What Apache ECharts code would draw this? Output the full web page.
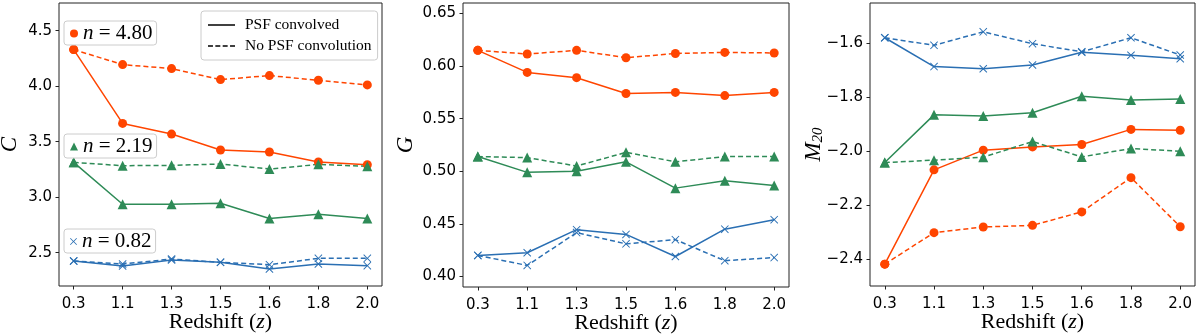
<!DOCTYPE html>
<html>
<head>
<meta charset="utf-8">
<script src="https://cdn.jsdelivr.net/npm/echarts@6/dist/echarts.min.js"></script>
<style>
html, body { margin: 0; padding: 0; background: #fff; }
#chart { width: 1200px; height: 335px; }
</style>
</head>
<body>
<div id="chart"></div>
<script>
// redshift bins (x categories)
const zLabels = ['0.3', '1.1', '1.3', '1.5', '1.6', '1.8', '2.0'];

// concentration C
const cRedPsf = [4.33, 3.665, 3.569, 3.425, 3.407, 3.317, 3.293];
const cRedRaw = [4.33, 4.195, 4.159, 4.06, 4.096, 4.054, 4.012];
const cGreenPsf = [3.314, 2.937, 2.937, 2.946, 2.808, 2.847, 2.808];
const cGreenRaw = [3.314, 3.284, 3.287, 3.299, 3.254, 3.296, 3.278];
const cBluePsf = [2.425, 2.38, 2.434, 2.413, 2.353, 2.398, 2.383];
const cBlueRaw = [2.425, 2.398, 2.443, 2.413, 2.392, 2.449, 2.449];

// Gini G
const gRedPsf = [0.615, 0.594, 0.589, 0.574, 0.575, 0.572, 0.575];
const gRedRaw = [0.615, 0.6115, 0.615, 0.608, 0.612, 0.613, 0.6125];
const gGreenPsf = [0.514, 0.499, 0.500, 0.509, 0.484, 0.491, 0.4865];
const gGreenRaw = [0.514, 0.513, 0.505, 0.518, 0.509, 0.514, 0.514];
const gBluePsf = [0.420, 0.4226, 0.4445, 0.440, 0.419, 0.445, 0.454];
const gBlueRaw = [0.420, 0.4105, 0.4417, 0.431, 0.435, 0.415, 0.418];

// M20
const mRedPsf = [-2.419, -2.069, -1.996, -1.984, -1.975, -1.919, -1.922];
const mRedRaw = [-2.419, -2.302, -2.281, -2.275, -2.225, -2.098, -2.280];
const mGreenPsf = [-2.042, -1.865, -1.869, -1.857, -1.796, -1.810, -1.806];
const mGreenRaw = [-2.042, -2.033, -2.022, -1.964, -2.021, -1.990, -2.000];
const mBluePsf = [-1.579, -1.686, -1.694, -1.680, -1.633, -1.644, -1.657];
const mBlueRaw = [-1.579, -1.607, -1.557, -1.601, -1.631, -1.579, -1.643];

// y ticks
const cTicks = [2.5, 3.0, 3.5, 4.0, 4.5];
const gTicks = [0.40, 0.45, 0.50, 0.55, 0.60, 0.65];
const mTicks = [-2.4, -2.2, -2.0, -1.8, -1.6];

const nameRed = 'n = 4.80';
const nameGreen = 'n = 2.19';
const nameBlue = 'n = 0.82';

const RED = '#ff4500';
const GREEN = '#2e8b57';
const BLUE = '#2a6fb3';
const xMark = 'path://M0,1L1,0L6,5L11,0L12,1L7,6L12,11L11,12L6,7L1,12L0,11L5,6Z';
const solidIcon = 'path://M0,0L27,0L27,1.5L0,1.5Z';
const dashIcon = 'path://M0,0L5,0L5,1.5L0,1.5Z M7.4,0L12.4,0L12.4,1.5L7.4,1.5Z M14.8,0L19.8,0L19.8,1.5L14.8,1.5Z M22.2,0L27.2,0L27.2,1.5L22.2,1.5Z';

const grids = [
    { left: 59, top: 3, width: 323, height: 283 },
    { left: 463, top: 3, width: 326, height: 284 },
    { left: 870, top: 3, width: 325, height: 283 }
];

const chart = echarts.init(document.getElementById('chart'));

function xAxisFor(idx) {
    return {
        type: 'value',
        gridIndex: idx,
        min: -0.3,
        max: 6.3,
        name: '{t|Redshift (}{z|z}{t|)}',
        nameLocation: 'middle',
        nameGap: 25,
        nameMoveOverlap: false,
        nameTextStyle: {
            rich: {
                t: { fontFamily: 'Liberation Serif', fontSize: 22, color: '#000' },
                z: { fontFamily: 'Liberation Serif', fontStyle: 'italic', fontSize: 22, color: '#000' }
            }
        },
        axisLine: { show: false, onZero: false },
        splitLine: { show: false },
        axisTick: { show: true, length: 3.5, customValues: [0, 1, 2, 3, 4, 5, 6], lineStyle: { color: '#222' } },
        axisLabel: {
            customValues: [0, 1, 2, 3, 4, 5, 6],
            formatter: v => zLabels[Math.round(v)],
            fontFamily: 'DejaVu Sans',
            fontSize: 15,
            color: '#000',
            margin: 11
        }
    };
}

function yAxisFor(idx, min, max, ticks, fmt, name, gap) {
    return {
        type: 'value',
        gridIndex: idx,
        min: min,
        max: max,
        name: name,
        nameLocation: 'middle',
        nameGap: gap,
        nameRotate: 90,
        nameMoveOverlap: false,
        nameTextStyle: {
            fontFamily: 'Liberation Serif', fontStyle: 'italic', fontSize: 23, color: '#000',
            rich: {
                m: { fontFamily: 'Liberation Serif', fontStyle: 'italic', fontSize: 23, color: '#000' },
                s: { fontFamily: 'Liberation Serif', fontSize: 15, color: '#000', padding: [10, 0, 0, 0] }
            }
        },
        axisLine: { show: false, onZero: false },
        splitLine: { show: false },
        axisTick: { show: true, length: 3.5, customValues: ticks, lineStyle: { color: '#222' } },
        axisLabel: {
            customValues: ticks,
            formatter: fmt,
            fontFamily: 'DejaVu Sans',
            fontSize: 15,
            color: '#000',
            margin: 7
        }
    };
}

function line(idx, name, vals, color, dashed, symbol, size) {
    return {
        type: 'line',
        name: name,
        xAxisIndex: idx,
        yAxisIndex: idx,
        data: vals.map((v, i) => [i, v]),
        color: color,
        symbol: symbol,
        symbolSize: size,
        showSymbol: true,
        lineStyle: { width: 1.5, type: dashed ? [5, 3] : 'solid', color: color },
        itemStyle: { color: color, borderWidth: 0 },
        animation: false,
        silent: true
    };
}

function panel(idx, red, redRaw, green, greenRaw, blue, blueRaw) {
    return [
        line(idx, nameRed, redRaw, RED, true, 'circle', 9),
        line(idx, nameRed, red, RED, false, 'circle', 9),
        line(idx, nameGreen, greenRaw, GREEN, true, 'triangle', 10),
        line(idx, nameGreen, green, GREEN, false, 'triangle', 10),
        line(idx, nameBlue, blueRaw, BLUE, true, xMark, 8),
        line(idx, nameBlue, blue, BLUE, false, xMark, 8)
    ];
}

const nLegendText = {
    fontFamily: 'Liberation Serif', fontSize: 20, color: '#000',
    rich: {
        i: { fontFamily: 'Liberation Serif', fontStyle: 'italic', fontSize: 21, color: '#000' },
        r: { fontFamily: 'Liberation Serif', fontSize: 21, color: '#000' }
    }
};

function nLegend(name, icon, top, size) {
    return {
        data: [{ name: name, icon: icon }],
        left: 64,
        top: top,
        orient: 'vertical',
        itemWidth: size,
        itemHeight: size,
        itemGap: 0,
        padding: [2, 4, 1, 6],
        backgroundColor: 'rgba(255,255,255,0.85)',
        borderColor: '#cccccc',
        borderWidth: 1,
        borderRadius: 3,
        selectedMode: false,
        textStyle: nLegendText,
        formatter: n => '{i|n}{r| = ' + n.slice(4) + '}'
    };
}

const option = {
    animation: false,
    grid: grids.map(g => Object.assign({
        show: true, borderColor: '#222', borderWidth: 1, backgroundColor: 'transparent',
        containLabel: false, outerBoundsMode: 'none'
    }, g)),
    xAxis: [xAxisFor(0), xAxisFor(1), xAxisFor(2)],
    yAxis: [
        yAxisFor(0, 2.2, 4.75, cTicks, v => v.toFixed(1), 'C', 38),
        yAxisFor(1, 0.39, 0.66, gTicks, v => v.toFixed(2), 'G', 46),
        yAxisFor(2, -2.5, -1.45, mTicks, v => '\u2212' + Math.abs(v).toFixed(1), '{m|M}{s|20}', 44)
    ],
    legend: [
        nLegend(nameRed, 'circle', 21, 8),
        nLegend(nameGreen, 'triangle', 134, 8),
        nLegend(nameBlue, xMark, 229, 7),
        {
            data: [{ name: 'PSF convolved', icon: solidIcon }, { name: 'No PSF convolution', icon: dashIcon }],
            left: 201,
            top: 11,
            orient: 'vertical',
            itemWidth: 27,
            itemHeight: 1.5,
            itemGap: 5,
            padding: [6, 6, 6, 7],
            backgroundColor: 'rgba(255,255,255,0.85)',
            borderColor: '#cccccc',
            borderWidth: 1,
            borderRadius: 3,
            selectedMode: false,
            textStyle: { fontFamily: 'Liberation Serif', fontSize: 15.5, lineHeight: 16, color: '#000', padding: [0, 0, 0, 5] }
        }
    ],
    series: [
        ...panel(0, cRedPsf, cRedRaw, cGreenPsf, cGreenRaw, cBluePsf, cBlueRaw),
        ...panel(1, gRedPsf, gRedRaw, gGreenPsf, gGreenRaw, gBluePsf, gBlueRaw),
        ...panel(2, mRedPsf, mRedRaw, mGreenPsf, mGreenRaw, mBluePsf, mBlueRaw),
        {
            type: 'line', name: 'PSF convolved', xAxisIndex: 0, yAxisIndex: 0, data: [],
            symbol: 'none', color: '#000', itemStyle: { color: '#000' }
        },
        {
            type: 'line', name: 'No PSF convolution', xAxisIndex: 0, yAxisIndex: 0, data: [],
            symbol: 'none', color: '#000', itemStyle: { color: '#000' }
        }
    ]
};

chart.setOption(option);
</script>
</body>
</html>
